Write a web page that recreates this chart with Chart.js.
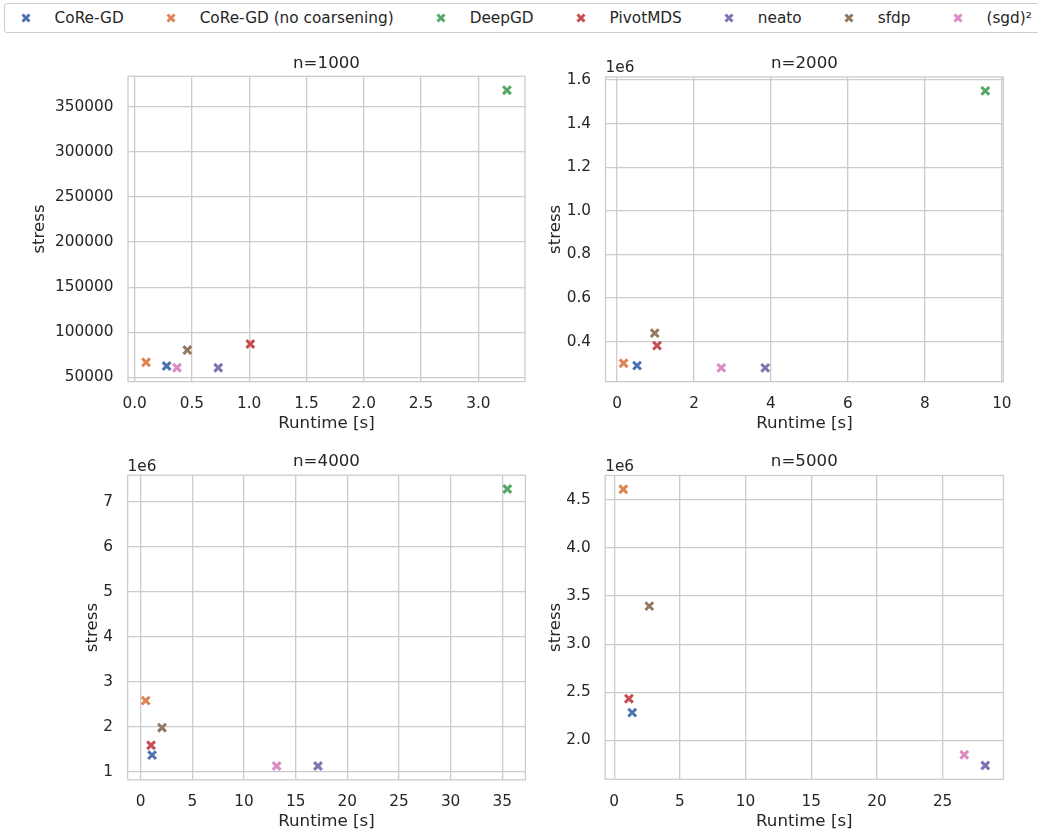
<!DOCTYPE html>
<html>
<head>
<meta charset="utf-8">
<script src="https://cdn.jsdelivr.net/npm/chart.js@4/dist/chart.umd.min.js"></script>
<style>
  body { margin: 0; width: 1038px; height: 831px; overflow: hidden; background: #fff; position: relative;
         font-family: "DejaVu Sans", sans-serif; color: #262626; }
  canvas { position: absolute; }
  #legend { position: absolute; left: 4px; top: 3px; width: 1070px; height: 30px; box-sizing: border-box;
            border: 1px solid #cccccc; border-radius: 3px; display: flex; align-items: center;
            padding-left: 13px; font-size: 15.3px; white-space: nowrap; background: #fff; }
  .item { display: flex; align-items: center; margin-right: 39.4px; }
  .item svg { width: 16px; height: 16px; display: block; }
  .item span { margin-left: 20.6px; }
</style>
</head>
<body>
<div id="legend"></div>
<script>
"use strict";

// methods / colours (seaborn "deep")
const methods = ['CoRe-GD', 'CoRe-GD (no coarsening)', 'DeepGD', 'PivotMDS', 'neato', 'sfdp', '(sgd)\u00b2'];
const colors = ['#4c72b0', '#dd8452', '#55a868', '#c44e52', '#8172b3', '#937860', '#da8bc3'];

// runtime [s] and stress per graph size, same order as methods
const runtime1000 = [0.28, 0.10, 3.25, 1.01, 0.73, 0.46, 0.37];
const stress1000  = [62600, 66700, 368500, 87000, 60700, 80300, 60700];

const runtime2000 = [0.52, 0.17, 9.57, 1.04, 3.85, 0.98, 2.71];
const stress2000  = [290000, 301000, 1550000, 382000, 280000, 439000, 280000];

const runtime4000 = [1.10, 0.48, 35.49, 1.00, 17.16, 2.06, 13.16];
const stress4000  = [1370000, 2580000, 7280000, 1590000, 1130000, 1980000, 1130000];

const runtime5000 = [1.37, 0.69, null, 1.12, 28.25, 2.67, 26.65];
const stress5000  = [2288000, 4611000, null, 2433000, 1738000, 3396000, 1849000];

// tick values and labels
const xTicks1000 = [0, 0.5, 1, 1.5, 2, 2.5, 3];
const xLabels1000 = ['0.0', '0.5', '1.0', '1.5', '2.0', '2.5', '3.0'];
const yTicks1000 = [50000, 100000, 150000, 200000, 250000, 300000, 350000];
const yLabels1000 = ['50000', '100000', '150000', '200000', '250000', '300000', '350000'];

const xTicks2000 = [0, 2, 4, 6, 8, 10];
const xLabels2000 = ['0', '2', '4', '6', '8', '10'];
const yTicks2000 = [400000, 600000, 800000, 1000000, 1200000, 1400000, 1600000];
const yLabels2000 = ['0.4', '0.6', '0.8', '1.0', '1.2', '1.4', '1.6'];

const xTicks4000 = [0, 5, 10, 15, 20, 25, 30, 35];
const xLabels4000 = ['0', '5', '10', '15', '20', '25', '30', '35'];
const yTicks4000 = [1000000, 2000000, 3000000, 4000000, 5000000, 6000000, 7000000];
const yLabels4000 = ['1', '2', '3', '4', '5', '6', '7'];

const xTicks5000 = [0, 5, 10, 15, 20, 25];
const xLabels5000 = ['0', '5', '10', '15', '20', '25'];
const yTicks5000 = [2000000, 2500000, 3000000, 3500000, 4000000, 4500000];
const yLabels5000 = ['2.0', '2.5', '3.0', '3.5', '4.0', '4.5'];

Chart.defaults.font.family = '"DejaVu Sans", sans-serif';
Chart.defaults.color = '#262626';

// legend
const legend = document.getElementById('legend');
methods.forEach((m, i) => {
  const it = document.createElement('div');
  it.className = 'item';
  it.innerHTML = '<svg viewBox="0 0 16 16"><path d="M4.5 4.5 L11.5 11.5 M11.5 4.5 L4.5 11.5" stroke="' +
    colors[i] + '" stroke-width="3"/></svg>';
  const s = document.createElement('span');
  s.textContent = m;
  it.appendChild(s);
  legend.appendChild(it);
});

// matplotlib style 5% margins
function axisRange(vals) {
  const v = vals.filter(x => x != null);
  const lo = Math.min(...v), hi = Math.max(...v), m = (hi - lo) * 0.05;
  return [lo - m, hi + m];
}

// light grey box round the axes, subplot title (centred on the axes) and the "1e6" offset text
const framePlugin = {
  id: 'frame',
  beforeDatasetsDraw(chart, args, opts) {
    const {ctx, chartArea: a} = chart;
    ctx.save();
    ctx.strokeStyle = '#cccccc';
    ctx.lineWidth = 1.3;
    ctx.strokeRect(a.left, a.top, a.right - a.left, a.bottom - a.top);
    ctx.fillStyle = '#262626';
    ctx.textBaseline = 'middle';
    ctx.font = '16.67px "DejaVu Sans"';
    ctx.textAlign = 'center';
    ctx.fillText(opts.title, (a.left + a.right) / 2, a.top - opts.titleGap);
    if (opts.offsetText) {
      ctx.font = '15.3px "DejaVu Sans"';
      ctx.textAlign = 'left';
      ctx.fillText(opts.offsetText, a.left, a.top - 8.5);
    }
    ctx.restore();
  }
};

function makeChart(p) {
  const canvas = document.createElement('canvas');
  canvas.width = p.w;
  canvas.height = p.h;
  canvas.style.left = p.left + 'px';
  canvas.style.top = p.top + 'px';
  document.body.appendChild(canvas);

  const [L, R, T, B] = p.area;
  const xH = p.h - (B - p.top);
  const [xmin, xmax] = axisRange(p.x);
  const [ymin, ymax] = axisRange(p.y);

  const datasets = methods.map((m, i) => ({
    label: m,
    data: p.x[i] == null ? [] : [{x: p.x[i], y: p.y[i]}],
    pointStyle: 'crossRot',
    pointRadius: 5.5,
    pointHoverRadius: 5.5,
    borderColor: colors[i],
    backgroundColor: colors[i],
    borderWidth: 3
  }));

  return new Chart(canvas, {
    type: 'scatter',
    data: { datasets: datasets },
    options: {
      responsive: false,
      animation: false,
      events: [],
      layout: { padding: { left: 0, top: T - p.top, bottom: 0, right: p.left + p.w - R } },
      plugins: {
        legend: { display: false },
        tooltip: { enabled: false },
        title: { display: false },
        frame: { title: p.title, titleGap: T - p.titleY, offsetText: p.offset }
      },
      scales: {
        x: {
          type: 'linear',
          min: xmin,
          max: xmax,
          border: { display: false },
          grid: { color: '#cccccc', lineWidth: 1.3, drawTicks: false },
          afterBuildTicks: s => { s.ticks = p.xTicks.map(v => ({value: v})); },
          afterFit: s => { s.height = xH; },
          ticks: {
            autoSkip: false, maxRotation: 0, padding: 13.5, color: '#262626',
            font: { size: 15.3 },
            callback: (v, i) => p.xLabels[i]
          },
          title: {
            display: true, text: 'Runtime [s]', color: '#262626',
            font: { size: 16.67 },
            padding: { top: 0, bottom: xH - 42 - 10 }
          }
        },
        y: {
          type: 'linear',
          min: ymin,
          max: ymax,
          border: { display: false },
          grid: { color: '#cccccc', lineWidth: 1.3, drawTicks: false },
          afterBuildTicks: s => { s.ticks = p.yTicks.map(v => ({value: v})); },
          afterFit: s => { s.width = L - p.left; },
          ticks: {
            autoSkip: false, padding: 14.5, color: '#262626',
            font: { size: 15.3 },
            callback: (v, i) => p.yLabels[i]
          },
          title: {
            display: true, text: 'stress', color: '#262626',
            font: { size: 16.67 },
            padding: { top: p.stressX - p.left - 10, bottom: 0 }
          }
        }
      }
    },
    plugins: [framePlugin]
  });
}

makeChart({ title: 'n=1000', left: 0, top: 40, w: 540, h: 400, area: [128, 525, 76.3, 381.6],
  titleY: 63.3, stressX: 39.5, offset: null,
  x: runtime1000, y: stress1000, xTicks: xTicks1000, xLabels: xLabels1000, yTicks: yTicks1000, yLabels: yLabels1000 });

makeChart({ title: 'n=2000', left: 540, top: 40, w: 498, h: 400, area: [605.5, 1003.4, 77, 381.7],
  titleY: 63.3, stressX: 556, offset: '1e6',
  x: runtime2000, y: stress2000, xTicks: xTicks2000, xLabels: xLabels2000, yTicks: yTicks2000, yLabels: yLabels2000 });

makeChart({ title: 'n=4000', left: 0, top: 438, w: 540, h: 400, area: [127.6, 525.4, 475.2, 779.8],
  titleY: 461.5, stressX: 93, offset: '1e6',
  x: runtime4000, y: stress4000, xTicks: xTicks4000, xLabels: xLabels4000, yTicks: yTicks4000, yLabels: yLabels4000 });

makeChart({ title: 'n=5000', left: 540, top: 438, w: 498, h: 400, area: [605.2, 1003.4, 475.5, 779.3],
  titleY: 461.5, stressX: 556, offset: '1e6',
  x: runtime5000, y: stress5000, xTicks: xTicks5000, xLabels: xLabels5000, yTicks: yTicks5000, yLabels: yLabels5000 });
</script>
</body>
</html>
